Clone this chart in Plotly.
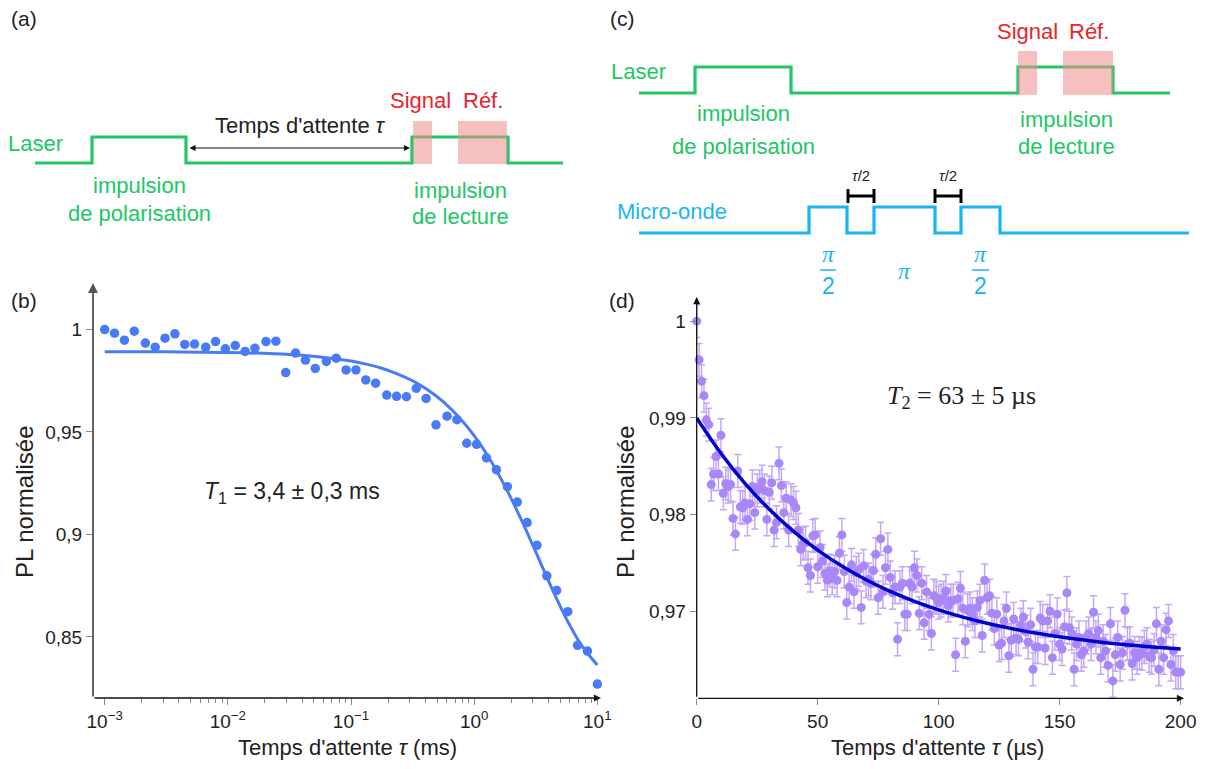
import plotly.graph_objects as go

W, H = 1211, 769

# ---------------- panel (b) data : T1 measurement (log time axis, ms) ----------------
log_tau_b = [-3.00, -2.92, -2.84, -2.76, -2.67, -2.59, -2.51, -2.43, -2.35, -2.27,
             -2.18, -2.10, -2.02, -1.94, -1.86, -1.78, -1.69, -1.61, -1.53, -1.45,
             -1.37, -1.29, -1.20, -1.12, -1.04, -0.96, -0.88, -0.80, -0.71, -0.63,
             -0.55, -0.47, -0.39, -0.31, -0.22, -0.14, -0.06, 0.02, 0.10, 0.18,
             0.27, 0.35, 0.43, 0.51, 0.59, 0.67, 0.76, 0.84, 0.92, 1.00]
pl_b = [1.0000, 0.9982, 0.9948, 0.9992, 0.9934, 0.9914, 0.9958, 0.9979, 0.9927, 0.9929,
        0.9914, 0.9941, 0.9906, 0.9922, 0.9893, 0.9909, 0.9941, 0.9943, 0.9790, 0.9885,
        0.9851, 0.9810, 0.9844, 0.9860, 0.9803, 0.9803, 0.9754, 0.9738, 0.9680, 0.9674,
        0.9672, 0.9713, 0.9664, 0.9535, 0.9577, 0.9560, 0.9445, 0.9440, 0.9374, 0.9316,
        0.9233, 0.9158, 0.9058, 0.8947, 0.8798, 0.8727, 0.8623, 0.8459, 0.8431, 0.8270]
fit_log_tau_b = [-3.0, -2.5, -2.0, -1.5, -1.25, -1.0, -0.875, -0.75, -0.625, -0.5, -0.375,
                 -0.25, -0.125, 0.0, 0.125, 0.25, 0.375, 0.5, 0.625, 0.75, 0.875, 1.0]
fit_pl_b = [0.9892, 0.9891, 0.9888, 0.9878, 0.9866, 0.9846, 0.9831, 0.9811, 0.9784, 0.9750, 0.9705,
            0.9647, 0.9573, 0.9482, 0.9369, 0.9235, 0.9082, 0.8915, 0.8745, 0.8587, 0.8456, 0.8363]
tau_b = [10 ** e for e in log_tau_b]
fit_tau_b = [10 ** e for e in fit_log_tau_b]

# ---------------- panel (d) data : T2 measurement (µs) ----------------
t_d = list(range(201))
pl_d = [1.0000, 0.9960, 0.9938, 0.9923, 0.9898, 0.9893, 0.9831, 0.9842, 0.9860, 0.9842,
        0.9882, 0.9822, 0.9832, 0.9829, 0.9831, 0.9796, 0.9780, 0.9845, 0.9808, 0.9807,
        0.9812, 0.9795, 0.9811, 0.9829, 0.9802, 0.9825, 0.9829, 0.9834, 0.9825, 0.9795,
        0.9823, 0.9833, 0.9784, 0.9792, 0.9853, 0.9830, 0.9802, 0.9817, 0.9784, 0.9815,
        0.9812, 0.9807, 0.9784, 0.9764, 0.9770, 0.9771, 0.9745, 0.9737, 0.9778, 0.9779,
        0.9746, 0.9766, 0.9752, 0.9739, 0.9732, 0.9742, 0.9734, 0.9741, 0.9732, 0.9760,
        0.9779, 0.9741, 0.9709, 0.9725, 0.9748, 0.9720, 0.9740, 0.9743, 0.9704, 0.9747,
        0.9731, 0.9733, 0.9729, 0.9742, 0.9759, 0.9714, 0.9775, 0.9720, 0.9745, 0.9764,
        0.9735, 0.9719, 0.9725, 0.9671, 0.9725, 0.9729, 0.9697, 0.9697, 0.9729, 0.9725,
        0.9745, 0.9737, 0.9698, 0.9729, 0.9688, 0.9720, 0.9697, 0.9677, 0.9716, 0.9714,
        0.9709, 0.9711, 0.9714, 0.9721, 0.9706, 0.9711, 0.9711, 0.9655, 0.9713, 0.9724,
        0.9703, 0.9669, 0.9701, 0.9703, 0.9697, 0.9690, 0.9704, 0.9711, 0.9675, 0.9732,
        0.9714, 0.9716, 0.9698, 0.9682, 0.9697, 0.9665, 0.9667, 0.9690, 0.9703, 0.9654,
        0.9670, 0.9692, 0.9672, 0.9671, 0.9686, 0.9694, 0.9679, 0.9668, 0.9686, 0.9640,
        0.9663, 0.9663, 0.9693, 0.9690, 0.9662, 0.9690, 0.9700, 0.9652, 0.9677, 0.9697,
        0.9666, 0.9661, 0.9684, 0.9719, 0.9683, 0.9677, 0.9640, 0.9666, 0.9673, 0.9655,
        0.9659, 0.9673, 0.9677, 0.9666, 0.9699, 0.9673, 0.9680, 0.9652, 0.9669, 0.9659,
        0.9644, 0.9687, 0.9628, 0.9655, 0.9673, 0.9645, 0.9657, 0.9701, 0.9666, 0.9667,
        0.9646, 0.9657, 0.9652, 0.9657, 0.9656, 0.9663, 0.9666, 0.9654, 0.9652, 0.9660,
        0.9687, 0.9640, 0.9669, 0.9652, 0.9681, 0.9690, 0.9645, 0.9659, 0.9637, 0.9637,
        0.9637]
err_d = [0.0017] * len(pl_d)
fit_t_d = [0, 10, 20, 30, 40, 50, 60, 70, 80, 90, 100, 110, 120, 130, 140, 150, 160, 170, 180, 190, 200]
fit_pl_d = [0.99000, 0.98634, 0.98321, 0.98055, 0.97827, 0.97633, 0.97468, 0.97326, 0.97206, 0.97103,
            0.97015, 0.96940, 0.96876, 0.96822, 0.96775, 0.96736, 0.96702, 0.96673, 0.96648, 0.96627, 0.96609]

# tick labels
b_xticks = [1e-3, 1e-2, 1e-1, 1e0, 1e1]
b_xticktext = ["10<sup>−3</sup>", "10<sup>−2</sup>", "10<sup>−1</sup>", "10<sup>0</sup>", "10<sup>1</sup>"]
b_xminor = [m * 10 ** d for d in (-3, -2, -1, 0) for m in range(2, 10)]
b_yticks = [0.85, 0.9, 0.95, 1.0]
b_yticktext = ["0,85", "0,9", "0,95", "1"]
d_xticks = [0, 50, 100, 150, 200]
d_yticks = [0.97, 0.98, 0.99, 1.0]
d_yticktext = ["0,97", "0,98", "0,99", "1"]

# ---------------- pulse-sequence schematics (pixel layout) ----------------
laser_a_x = [35, 92, 92, 186, 186, 412, 412, 508, 508, 563]
laser_a_y = [163, 163, 137, 137, 163, 163, 137, 137, 163, 163]
laser_c_x = [639, 695, 695, 791, 791, 1018, 1018, 1113, 1113, 1170]
laser_c_y = [93, 93, 67, 67, 93, 93, 67, 67, 93, 93]
mw_c_x = [639, 809, 809, 847, 847, 874, 874, 935, 935, 961, 961, 1000, 1000, 1189]
mw_c_y = [233, 233, 207, 207, 233, 233, 207, 207, 233, 233, 207, 207, 233, 233]

GREEN = "#21c767"
CYAN = "#19b5f2"
RED = "#e8242c"
PINK = "rgba(238,140,140,0.55)"
BLUE_B = "#4a7bf7"
PURPLE = "#a987f8"
PURPLE_ERR = "#c3a8f8"
NAVY = "#0000cd"
TXT = "#222222"
FONT = "Liberation Sans"
SERIF = "Liberation Serif"


def X(px):
    return px / W


def Y(py):
    return 1 - py / H


def path(xs, ys):
    return "M " + " L ".join(f"{X(a):.5f},{Y(b):.5f}" for a, b in zip(xs, ys))


fig = go.Figure()

# (b)
fig.add_trace(go.Scatter(x=fit_tau_b, y=fit_pl_b, mode="lines",
                         line=dict(color=BLUE_B, width=3, shape="spline"),
                         xaxis="x", yaxis="y", hoverinfo="skip"))
fig.add_trace(go.Scatter(x=tau_b, y=pl_b, mode="markers",
                         marker=dict(color=BLUE_B, size=9.5),
                         xaxis="x", yaxis="y", cliponaxis=False))
# (d)
fig.add_trace(go.Scatter(x=t_d, y=pl_d, mode="markers",
                         marker=dict(color=PURPLE, size=9),
                         error_y=dict(type="data", array=err_d, color=PURPLE_ERR, thickness=1.5, width=3.5),
                         xaxis="x2", yaxis="y2", cliponaxis=False))
fig.add_trace(go.Scatter(x=fit_t_d, y=fit_pl_d, mode="lines",
                         line=dict(color=NAVY, width=3.5, shape="spline"),
                         xaxis="x2", yaxis="y2", hoverinfo="skip"))

tickfont = dict(family=FONT, size=19, color=TXT)
common = dict(showgrid=False, zeroline=False, showline=False, ticks="outside",
              tickcolor="#888888", tickwidth=1.2, tickfont=tickfont, automargin=False)

shapes = []
annotations = []


def text(s, px, py, size=22, color=TXT, family=FONT, angle=0, xanchor="center"):
    annotations.append(dict(text=s, x=X(px), y=Y(py), xref="paper", yref="paper",
                            showarrow=False, xanchor=xanchor, yanchor="middle",
                            textangle=angle, font=dict(family=family, size=size, color=color)))


def arrow(x0, y0, x1, y1, color="#111111", width=1.3, both=False):
    annotations.append(dict(text="", x=X(x1), y=Y(y1), xref="paper", yref="paper",
                            ax=x0 - x1, ay=y0 - y1, axref="pixel", ayref="pixel",
                            showarrow=True, arrowhead=2, arrowsize=1.1, arrowwidth=width,
                            arrowcolor=color, arrowside="end+start" if both else "end",
                            standoff=0, startstandoff=0))


# axes arrows
arrow(93, 698, 93, 283, color="#555555", width=1.8)
arrow(93, 698, 601, 698, color="#111111", width=1.3)
arrow(696.7, 698.3, 696.7, 297, color="#111111", width=1.3)
arrow(696.7, 698.3, 1184, 698.3, color="#111111", width=1.3)

# schematic lines
for xs, ys, col in [(laser_a_x, laser_a_y, GREEN), (laser_c_x, laser_c_y, GREEN), (mw_c_x, mw_c_y, CYAN)]:
    shapes.append(dict(type="path", path=path(xs, ys), xref="paper", yref="paper",
                       line=dict(color=col, width=3.2)))
# Signal / Ref windows
for x0, x1, y0, y1 in [(413, 432, 121, 164), (458, 507, 121, 164),
                       (1018, 1037, 51, 95), (1063, 1113, 51, 95)]:
    shapes.append(dict(type="rect", x0=X(x0), x1=X(x1), y0=Y(y1), y1=Y(y0),
                       xref="paper", yref="paper", fillcolor=PINK, line=dict(width=0)))
# tau/2 markers
for xa, xb in [(848, 874), (935, 961)]:
    shapes.append(dict(type="line", x0=X(xa), x1=X(xb), y0=Y(196), y1=Y(196),
                       xref="paper", yref="paper", line=dict(color="black", width=3)))
    for xx in (xa, xb):
        shapes.append(dict(type="line", x0=X(xx), x1=X(xx), y0=Y(189), y1=Y(203),
                           xref="paper", yref="paper", line=dict(color="black", width=3)))
    text("<i>τ</i>/2", (xa + xb) / 2, 175, size=15, color=TXT)
# pi/2 fraction bars
for xa, xb in [(820, 836), (972, 989)]:
    shapes.append(dict(type="line", x0=X(xa), x1=X(xb), y0=Y(270), y1=Y(270),
                       xref="paper", yref="paper", line=dict(color=CYAN, width=1.5)))
    text("<i>π</i>", (xa + xb) / 2, 254, size=24, color=CYAN, family=SERIF)
    text("2", (xa + xb) / 2, 286, size=23, color=CYAN)
text("<i>π</i>", 905, 271, size=24, color=CYAN, family=SERIF)

# panel (a) texts
text("(a)", 24, 18, size=21)
text("Laser", 35, 143, size=22, color=GREEN)
arrow(188, 148, 410, 148, color="#111111", width=1.1, both=True)
text("Temps d'attente <i>τ</i>", 300, 125, size=22)
text("Signal", 420, 101, size=22, color=RED)
text("Réf.", 483, 101, size=22, color=RED)
text("impulsion", 139, 185, size=22, color=GREEN)
text("de polarisation", 139, 214, size=22, color=GREEN)
text("impulsion", 460, 190, size=22, color=GREEN)
text("de lecture", 460, 217, size=22, color=GREEN)

# panel (c) texts
text("(c)", 622, 18, size=21)
text("Laser", 639, 72, size=22, color=GREEN)
text("Signal", 1027, 32, size=22, color=RED)
text("Réf.", 1089, 32, size=22, color=RED)
text("impulsion", 743, 113, size=22, color=GREEN)
text("de polarisation", 743, 146, size=22, color=GREEN)
text("impulsion", 1066, 119, size=22, color=GREEN)
text("de lecture", 1066, 147, size=22, color=GREEN)
text("Micro-onde", 672, 212, size=22, color=CYAN)

# panel (b), (d) texts
text("(b)", 24, 300, size=21)
text("(d)", 622, 300, size=21)
text("<i>T</i><sub>1</sub> = 3,4 ± 0,3 ms", 292, 492, size=23)
text("<i>T</i><sub>2</sub> = 63 ± 5 µs", 962, 397, size=26, family=SERIF)
text("Temps d'attente <i>τ</i> (ms)", 347, 747, size=22)
text("Temps d'attente <i>τ</i> (µs)", 938, 747, size=22)
text("PL normalisée", 24, 502, size=24, angle=-90)
text("PL normalisée", 625, 502, size=24, angle=-90)

fig.update_layout(
    width=W, height=H, autosize=False,
    margin=dict(l=0, r=0, t=0, b=0, pad=0, autoexpand=False),
    paper_bgcolor="white", plot_bgcolor="rgba(0,0,0,0)", showlegend=False,
    xaxis=dict(type="log", domain=[X(93), X(601)], range=[-3.095, 1.03], anchor="y",
               tickvals=b_xticks, ticktext=b_xticktext, ticklen=6,
               minor=dict(tickvals=b_xminor, ticks="outside", ticklen=4, tickcolor="#888888"),
               **common),
    yaxis=dict(domain=[Y(698), Y(283)], range=[0.8202, 1.0227], anchor="x",
               tickvals=b_yticks, ticktext=b_yticktext, ticklen=6, **common),
    xaxis2=dict(domain=[X(696.7), X(1184)], range=[0, 201.4], anchor="y2",
                tickvals=d_xticks, ticklen=6, **common),
    yaxis2=dict(domain=[Y(698.3), Y(297)], range=[0.9610, 1.0025], anchor="x2",
                tickvals=d_yticks, ticktext=d_yticktext, ticklen=6, **common),
    shapes=shapes, annotations=annotations,
)

fig.write_html(
    "out.html",
    config={"responsive": False, "displayModeBar": False},
    post_script="document.body.style.margin='0';document.body.style.padding='0';"
                "document.body.style.overflow='hidden';",
)
